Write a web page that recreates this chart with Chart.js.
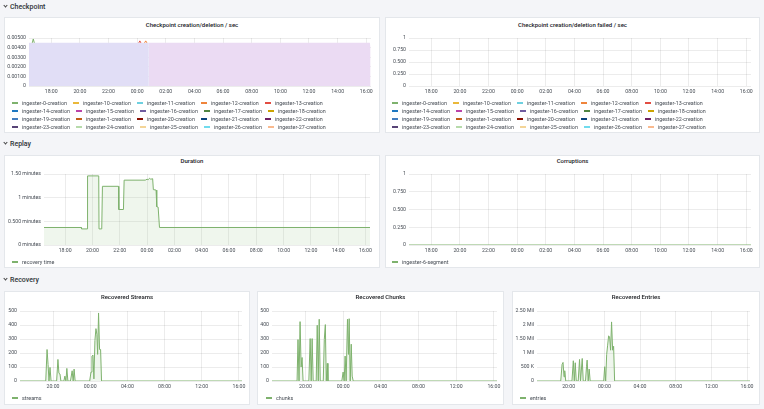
<!DOCTYPE html>
<html>
<head>
<meta charset="utf-8">
<script src="https://cdn.jsdelivr.net/npm/chart.js@4.4.0/dist/chart.umd.min.js"></script>
<style>
  body { margin: 0; width: 764px; height: 409px; background: #f4f5f8; font-family: Roboto, sans-serif; position: relative; overflow: hidden; }
  .row-title { position: absolute; left: 3px; font-size: 7px; font-weight: 500; color: #2f3437; line-height: 10px; }
  .row-title i { display: inline-block; width: 2px; height: 2px; border-right: 1px solid #444; border-bottom: 1px solid #444; transform: rotate(45deg); margin: 0 3px 2px 1px; }
  .panel { position: absolute; background: #fff; box-shadow: inset 0 0 0 1px #e4e7eb; }
  .panel canvas { position: absolute; left: 0; top: 0; }
  .ptitle { position: absolute; left: 0; right: 0; text-align: center; font-size: 6px; font-weight: 500; color: #202226; line-height: 8px; }
  .legend { position: absolute; display: flex; flex-wrap: wrap; column-gap: 6px; font-size: 5.4px; line-height: 8px; color: #464c54; white-space: nowrap; }
  .legend span i { display: inline-block; width: 6px; height: 2px; margin-right: 4px; vertical-align: middle; position: relative; top: -0.5px; }
</style>
</head>
<body>
<div class="row-title" style="top:2px"><i></i>Checkpoint</div>
<div class="row-title" style="top:139px"><i></i>Replay</div>
<div class="row-title" style="top:275px"><i></i>Recovery</div>

<div id="pA" class="panel"><div class="ptitle" style="top:4px">Checkpoint creation/deletion / sec</div><canvas id="cA"></canvas></div>
<div id="pB" class="panel"><div class="ptitle" style="top:4px">Checkpoint creation/deletion failed / sec</div><canvas id="cB"></canvas></div>
<div id="pC" class="panel"><div class="ptitle" style="top:2px">Duration</div><canvas id="cC"></canvas></div>
<div id="pD" class="panel"><div class="ptitle" style="top:2px">Corruptions</div><canvas id="cD"></canvas></div>
<div id="pE" class="panel"><div class="ptitle" style="top:2px">Recovered Streams</div><canvas id="cE"></canvas></div>
<div id="pF" class="panel"><div class="ptitle" style="top:2px">Recovered Chunks</div><canvas id="cF"></canvas></div>
<div id="pG" class="panel"><div class="ptitle" style="top:2px">Recovered Entries</div><canvas id="cG"></canvas></div>

<script>
// time axis in hours from midnight of day one (24.5 = 00:30 next day)
const timeMin = 16.45;
const timeMax = 40.33;
const hourTicks = [18, 20, 22, 24, 26, 28, 30, 32, 34, 36, 38, 40];
const hourLabels = ["18:00", "20:00", "22:00", "00:00", "02:00", "04:00", "06:00", "08:00", "10:00", "12:00", "14:00", "16:00"];
const hourTicksWide = [20, 24, 28, 32, 36, 40];
const hourLabelsWide = ["20:00", "00:00", "04:00", "08:00", "12:00", "16:00"];

const ckptNames = [
  "ingester-0-creation", "ingester-10-creation", "ingester-11-creation", "ingester-12-creation", "ingester-13-creation",
  "ingester-14-creation", "ingester-15-creation", "ingester-16-creation", "ingester-17-creation", "ingester-18-creation",
  "ingester-19-creation", "ingester-1-creation", "ingester-20-creation", "ingester-21-creation", "ingester-22-creation",
  "ingester-23-creation", "ingester-24-creation", "ingester-25-creation", "ingester-26-creation", "ingester-27-creation",
];
const palette = [
  "#7EB26D", "#EAB839", "#6ED0E0", "#EF843C", "#E24D42", "#1F78C1", "#BA43A9", "#705DA0", "#508642", "#CCA300",
  "#447EBF", "#C15C17", "#890F02", "#0A437C", "#6D1F62", "#584477", "#B7DBAB", "#F4D598", "#70DBED", "#F9BA8F",
];

// checkpoint rate: the dense band of overlapping series
const ckptEarlyTimes = [16.45, 24.82];
const ckptEarlyValues = [0.0045, 0.0045];
const ckptLateTimes = [24.82, 40.25, 40.3];
const ckptLateValues = [0.0045, 0.0045, 0.0040];
const ckptSpike0Times = [16.68, 16.75, 16.82];
const ckptSpike0Values = [0.0045, 0.0049, 0.0045];
const ckptSpike13Times = [24.12, 24.19, 24.26];
const ckptSpike13Values = [0.0045, 0.0047, 0.0045];
const ckptSpike12Times = [24.52, 24.6, 24.68];
const ckptSpike12Values = [0.0045, 0.0047, 0.0045];
const ckptTicks = [0, 0.001, 0.002, 0.003, 0.004, 0.005];
const ckptTickLabels = ["0", "0.00100", "0.00200", "0.00300", "0.00400", "0.00500"];

const unitTicks = [0, 0.25, 0.5, 0.75, 1];
const unitTickLabels = ["0", "0.250", "0.500", "0.750", "1"];

// replay duration, minutes
const durTimes = [16.45, 19.18, 19.2, 19.6, 19.64, 20.46, 20.48, 20.68, 20.73, 21.91, 21.93, 22.27, 22.32, 23.87, 24.0, 24.09, 24.18, 24.27, 24.41, 24.46, 24.66, 24.71, 24.81, 24.91, 40.33];
const durValues = [0.37, 0.37, 0.34, 0.34, 1.46, 1.46, 0.34, 0.34, 1.24, 1.24, 0.75, 0.75, 1.37, 1.37, 1.39, 1.38, 1.41, 1.39, 1.4, 1.17, 1.16, 0.81, 0.8, 0.37, 0.37];
const durTicks = [0, 0.5, 1, 1.5];
const durTickLabels = ["0 minutes", "0.500 minutes", "1 minutes", "1.50 minutes"];

const corruptTimes = [16.45, 40.33];
const corruptValues = [0, 0];

const streamTimes = [16.45, 19.22, 19.36, 19.47, 19.57, 19.68, 19.79, 20.39, 20.53, 20.64, 20.75, 20.85, 21.17, 21.28, 21.39, 21.49, 21.6, 21.88, 22.06, 22.17, 22.27, 22.38, 23.94, 24.09, 24.19, 24.3, 24.4, 24.51, 24.62, 24.72, 24.8, 24.9, 25.01, 25.12, 25.22, 40.33];
const streamValues = [0, 0, 225, 118, 0, 97, 0, 0, 154, 55, 50, 0, 0, 35, 0, 90, 0, 0, 73, 0, 85, 0, 0, 64, 178, 185, 15, 290, 374, 334, 190, 486, 225, 225, 0, 0];

const chunkTimes = [16.45, 19.11, 19.21, 19.32, 19.43, 19.54, 19.64, 19.75, 20.36, 20.5, 20.61, 20.71, 20.82, 21.14, 21.25, 21.36, 21.46, 21.57, 21.89, 22.0, 22.11, 22.21, 22.32, 22.39, 23.86, 24.0, 24.11, 24.21, 24.32, 24.46, 24.57, 24.64, 24.75, 24.86, 24.96, 25.07, 40.33];
const chunkValues = [0, 0, 296, 0, 424, 100, 168, 0, 0, 303, 0, 303, 0, 0, 398, 0, 441, 0, 0, 296, 403, 0, 126, 0, 0, 64, 0, 178, 0, 441, 190, 445, 0, 263, 35, 0, 0];

const entryTimes = [16.45, 19.11, 19.26, 19.37, 19.48, 19.56, 19.67, 20.37, 20.52, 20.63, 20.74, 20.85, 21.07, 21.22, 21.33, 21.52, 21.63, 21.89, 22.0, 22.07, 22.19, 22.3, 22.41, 23.93, 24.04, 24.15, 24.26, 24.37, 24.48, 24.59, 24.7, 24.81, 24.93, 25.04, 25.15, 40.33];
const entryValues = [0, 0, 592000, 663000, 150000, 367000, 0, 0, 723000, 0, 652000, 0, 0, 770000, 0, 805000, 0, 0, 510000, 746000, 0, 427000, 0, 0, 510000, 0, 948000, 1280000, 1610000, 1580000, 1100000, 2110000, 1100000, 1240000, 0, 0];

const countTicks = [0, 100, 200, 300, 400, 500];
const countTickLabels = ["0", "100", "200", "300", "400", "500"];
const entryTicks = [0, 500000, 1000000, 1500000, 2000000, 2500000];
const entryTickLabels = ["0", "500 K", "1 Mil", "1.50 Mil", "2 Mil", "2.50 Mil"];

const tickFont = { family: "Roboto", size: 5.2 };
const tickColor = "#464c54";
const gridColor = "rgba(0,0,0,0.075)";

function points(times, values) {
  return times.map((t, i) => ({ x: t, y: values[i] }));
}

function legend(panelEl, left, top, width, names, colors) {
  const el = document.createElement("div");
  el.className = "legend";
  el.style.left = left + "px";
  el.style.top = top + "px";
  el.style.width = width + "px";
  el.innerHTML = names.map((n, i) => `<span><i style="background:${colors[i]}"></i>${n}</span>`).join("");
  panelEl.appendChild(el);
}

// panel = [left, top, width, height], plot = [left, top, right, bottom], both in page pixels
function timeChart(id, panel, plot, yTicks, yLabels, xTicks, xLabels, datasets) {
  const box = document.getElementById("p" + id);
  box.style.left = panel[0] + "px";
  box.style.top = panel[1] + "px";
  box.style.width = panel[2] + "px";
  box.style.height = panel[3] + "px";
  const canvas = document.getElementById("c" + id);
  canvas.width = panel[2];
  canvas.height = panel[3];

  new Chart(canvas, {
    type: "line",
    data: { datasets: datasets },
    options: {
      responsive: false,
      animation: false,
      events: [],
      layout: {
        padding: { left: 0, top: plot[1] - panel[1], right: panel[0] + panel[2] - plot[2], bottom: 0 },
      },
      plugins: { legend: { display: false }, tooltip: { enabled: false } },
      elements: { point: { radius: 0 }, line: { borderWidth: 1, tension: 0 } },
      scales: {
        x: {
          type: "linear",
          min: timeMin,
          max: timeMax,
          afterFit: (s) => { s.height = panel[1] + panel[3] - plot[3]; },
          afterBuildTicks: (s) => { s.ticks = xTicks.map((v) => ({ value: v })); },
          ticks: { autoSkip: false, maxRotation: 0, padding: 2.5, font: tickFont, color: tickColor, callback: (v, i) => xLabels[i] },
          grid: { color: gridColor, drawTicks: false },
          border: { display: false },
        },
        y: {
          min: yTicks[0],
          max: yTicks[yTicks.length - 1],
          afterFit: (s) => { s.width = plot[0] - panel[0]; },
          afterBuildTicks: (s) => { s.ticks = yTicks.map((v) => ({ value: v })); },
          ticks: { autoSkip: false, padding: 3, font: tickFont, color: tickColor, callback: (v, i) => yLabels[i] },
          grid: { color: gridColor, drawTicks: false },
          border: { display: false },
        },
      },
    },
  });
  return box;
}

const green = "#7EB26D";
const greenFill = "rgba(126,178,109,0.12)";

// Checkpoint row
const pA = timeChart("A", [4, 17, 376, 116], [29, 38, 371, 86], ckptTicks, ckptTickLabels, hourTicks, hourLabels, [
  { data: points(ckptSpike0Times, ckptSpike0Values), borderColor: palette[0], fill: false },
  { data: points(ckptSpike13Times, ckptSpike13Values), borderColor: palette[4], fill: false },
  { data: points(ckptSpike12Times, ckptSpike12Values), borderColor: palette[3], fill: false },
  { data: points(ckptEarlyTimes, ckptEarlyValues), borderWidth: 0, borderColor: "rgba(0,0,0,0)", backgroundColor: "#e1def6", fill: "origin" },
  { data: points(ckptLateTimes, ckptLateValues), borderWidth: 0, borderColor: "rgba(0,0,0,0)", backgroundColor: "#ebdbf3", fill: "origin" },
]);
legend(pA, 8, 82, 330, ckptNames, palette);

const pB = timeChart("B", [385, 17, 375, 116], [409, 38, 751, 86], unitTicks, unitTickLabels, hourTicks, hourLabels, []);
legend(pB, 7, 82, 330, ckptNames, palette);

// Replay row
const pC = timeChart("C", [4, 155, 376, 113], [44, 174, 370, 245], durTicks, durTickLabels, hourTicks, hourLabels, [
  { data: points(durTimes, durValues), borderColor: green, backgroundColor: greenFill, fill: "origin" },
]);
legend(pC, 8, 103, 200, ["recovery time"], [green]);

const pD = timeChart("D", [385, 155, 375, 113], [409, 174, 751, 245], unitTicks, unitTickLabels, hourTicks, hourLabels, [
  { data: points(corruptTimes, corruptValues), borderColor: green, fill: false },
]);
legend(pD, 7, 103, 200, ["ingester-6-segment"], [green]);

// Recovery row
const pE = timeChart("E", [4, 291, 246, 114], [20, 311, 242, 381], countTicks, countTickLabels, hourTicksWide, hourLabelsWide, [
  { data: points(streamTimes, streamValues), borderColor: green, backgroundColor: greenFill, fill: "origin" },
]);
legend(pE, 8, 103, 200, ["streams"], [green]);

const pF = timeChart("F", [257, 291, 247, 114], [272, 311, 497, 381], countTicks, countTickLabels, hourTicksWide, hourLabelsWide, [
  { data: points(chunkTimes, chunkValues), borderColor: green, backgroundColor: greenFill, fill: "origin" },
]);
legend(pF, 9, 103, 200, ["chunks"], [green]);

const pG = timeChart("G", [512, 291, 248, 114], [537, 311, 750, 381], entryTicks, entryTickLabels, hourTicksWide, hourLabelsWide, [
  { data: points(entryTimes, entryValues), borderColor: green, backgroundColor: greenFill, fill: "origin" },
]);
legend(pG, 8, 103, 200, ["entries"], [green]);
</script>
</body>
</html>
